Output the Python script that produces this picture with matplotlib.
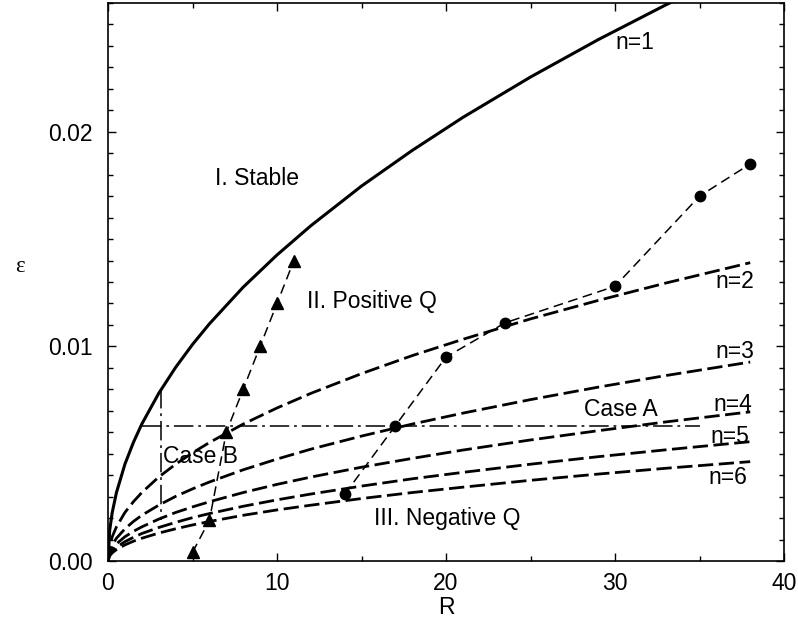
import matplotlib
matplotlib.use("Agg")
import matplotlib.pyplot as plt
from matplotlib.ticker import MultipleLocator, FormatStrFormatter

plt.rcParams['font.family'] = ['Liberation Sans', 'DejaVu Sans']
plt.rcParams['lines.scale_dashes'] = False

# ---- data ----
R_curve = [0, 0.1, 0.25, 0.5, 1, 1.5, 2, 3, 4, 5, 6, 8, 10, 12, 15, 18, 21, 25, 29, 33, 38]
eps_n1 = [0, 0.00143, 0.00226, 0.00319, 0.00451, 0.00552, 0.00638, 0.00781, 0.00902, 0.01009,
          0.01105, 0.01276, 0.01426, 0.01562, 0.01747, 0.01913, 0.02067, 0.02255, 0.02429, 0.02591, 0.0278]
eps_n2 = [0, 0.00071, 0.00113, 0.00159, 0.00226, 0.00276, 0.00319, 0.00391, 0.00451, 0.00504,
          0.00552, 0.00638, 0.00713, 0.00781, 0.00873, 0.00957, 0.01033, 0.01128, 0.01214, 0.01295, 0.0139]
eps_n3 = [0, 0.00048, 0.00075, 0.00106, 0.0015, 0.00184, 0.00213, 0.0026, 0.00301, 0.00336,
          0.00368, 0.00425, 0.00475, 0.00521, 0.00582, 0.00638, 0.00689, 0.00752, 0.0081, 0.00864, 0.00927]
eps_n4 = [0, 0.00036, 0.00056, 0.0008, 0.00113, 0.00138, 0.00159, 0.00195, 0.00226, 0.00252,
          0.00276, 0.00319, 0.00357, 0.00391, 0.00437, 0.00478, 0.00517, 0.00564, 0.00607, 0.00648, 0.00695]
eps_n5 = [0, 0.00029, 0.00045, 0.00064, 0.0009, 0.0011, 0.00128, 0.00156, 0.0018, 0.00202,
          0.00221, 0.00255, 0.00285, 0.00312, 0.00349, 0.00383, 0.00413, 0.00451, 0.00486, 0.00518, 0.00556]
eps_n6 = [0, 0.00024, 0.00038, 0.00053, 0.00075, 0.00092, 0.00106, 0.0013, 0.0015, 0.00168,
          0.00184, 0.00213, 0.00238, 0.0026, 0.00291, 0.00319, 0.00344, 0.00376, 0.00405, 0.00432, 0.00463]

R_case_b = [5, 6, 7, 8, 9, 10, 11]
eps_case_b = [0.0004, 0.0019, 0.0060, 0.0080, 0.0100, 0.0120, 0.0140]

R_case_a = [14, 17, 20, 23.5, 30, 35, 38]
eps_case_a = [0.0031, 0.0063, 0.0095, 0.0111, 0.0128, 0.0170, 0.0185]

caseA_line_R = [2.0, 35.0]
caseA_line_eps = [0.0063, 0.0063]
caseB_line_R = [3.15, 3.15]
caseB_line_eps = [0.0080, 0.0019]

x_ticks = [0, 10, 20, 30, 40]
y_ticks = [0.00, 0.01, 0.02]

# ---- figure ----
fig = plt.figure(figsize=(7.98, 6.27), dpi=100)
ax = fig.add_axes([108/798, 1-561/627, (784-108)/798, (561-3)/627])

ax.plot(R_curve, eps_n1, color='black', lw=2.2, solid_capstyle='butt')
for e in [eps_n2, eps_n3, eps_n4, eps_n5, eps_n6]:
    ax.plot(R_curve, e, color='black', lw=2.0, dashes=(11, 4))

ax.plot(R_case_b, eps_case_b, color='black', lw=1.1, dashes=(7, 4),
        marker='^', markersize=8)
ax.plot(R_case_a, eps_case_a, color='black', lw=1.1, dashes=(7, 4),
        marker='o', markersize=7.5)

ax.plot(caseA_line_R, caseA_line_eps, color='black', lw=1.1, dashes=(14, 3.5, 2, 3.5))
ax.plot(caseB_line_R, caseB_line_eps, color='black', lw=1.1, dashes=(14, 3.5, 2, 3.5))

fs = 16.5
ax.text(31.2, 0.02414, 'n=1', fontsize=fs, ha='center', va='center')
ax.text(8.8, 0.0178, 'I. Stable', fontsize=fs, ha='center', va='center')
ax.text(15.6, 0.0121, 'II. Positive Q', fontsize=fs, ha='center', va='center')
ax.text(37.1, 0.0130, 'n=2', fontsize=fs, ha='center', va='center')
ax.text(37.1, 0.00974, 'n=3', fontsize=fs, ha='center', va='center')
ax.text(30.35, 0.00704, 'Case A', fontsize=fs, ha='center', va='center')
ax.text(37.0, 0.00727, 'n=4', fontsize=fs, ha='center', va='center')
ax.text(36.8, 0.00578, 'n=5', fontsize=fs, ha='center', va='center')
ax.text(36.7, 0.00387, 'n=6', fontsize=fs, ha='center', va='center')
ax.text(5.5, 0.00485, 'Case B', fontsize=fs, ha='center', va='center')
ax.text(20.05, 0.0020, 'III. Negative Q', fontsize=fs, ha='center', va='center')

ax.set_xlim(0, 40)
ax.set_ylim(0, 0.026)
ax.set_xticks(x_ticks)
ax.set_yticks(y_ticks)
ax.xaxis.set_minor_locator(MultipleLocator(5))
ax.yaxis.set_minor_locator(MultipleLocator(0.001))
ax.yaxis.set_major_formatter(FormatStrFormatter('%.2f'))
ax.tick_params(which='both', direction='in', top=True, right=True, width=1.0)
ax.tick_params(which='major', length=6)
ax.tick_params(which='minor', length=3.6)
ax.tick_params(axis='x', which='major', labelsize=fs, pad=8)
ax.tick_params(axis='y', which='major', labelsize=fs, pad=11)
for s in ax.spines.values():
    s.set_linewidth(1.2)

fig.text(446/798, 1-608/627, 'R', fontsize=fs, ha='center', va='center')
fig.text(20/798, 1-266/627, 'ε', fontsize=fs, ha='center', va='center',
         family=['Liberation Serif', 'DejaVu Serif'])

fig.savefig('out.png', dpi=100)
